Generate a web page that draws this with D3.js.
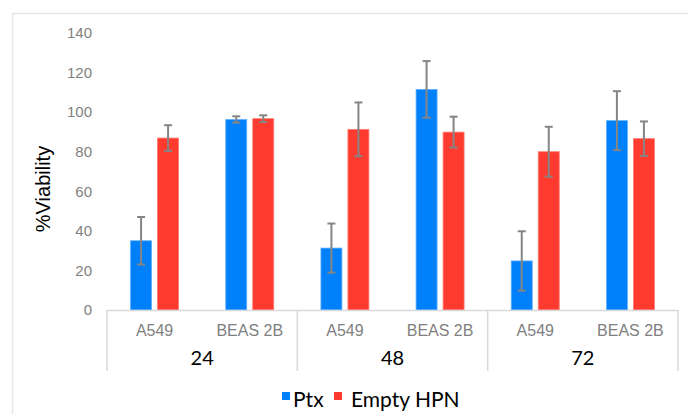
<!DOCTYPE html>
<html>
<head>
<meta charset="utf-8">
<script src="https://cdn.jsdelivr.net/npm/d3@7"></script>
<style>
  body { margin: 0; background: #fff; }
  svg { display: block; }
</style>
</head>
<body>
<div id="content"></div>
<script>
// hours, cell lines, series
var groups = ["24", "48", "72"];
var cells = ["A549", "BEAS 2B"];
var series = ["Ptx", "Empty HPN"];
var yTicks = [0, 20, 40, 60, 80, 100, 120, 140];

// values in order 24/A549, 24/BEAS, 48/A549, 48/BEAS, 72/A549, 72/BEAS
var ptx = [35, 96.3, 31.3, 111.5, 24.8, 95.7];
var ptxErr = [12, 1.6, 12.4, 14.3, 15, 14.9];
var emptyHpn = [86.9, 96.7, 91.3, 89.9, 80, 86.6];
var emptyHpnErr = [6.5, 1.7, 13.6, 7.8, 12.6, 8.7];

var colors = { "Ptx": "#0080fb", "Empty HPN": "#ff3b2f" };
var strokes = { "Ptx": "#5fb0ff", "Empty HPN": "#ff7d73" };

var width = 688, height = 414;

var svg = d3.select("div#content").append("svg")
    .attr("width", width)
    .attr("height", height);

// faint frame
svg.append("path")
    .attr("d", "M12.5," + height + "V13.5H" + width)
    .attr("fill", "none")
    .attr("stroke", "#e6e6e6")
    .attr("stroke-width", 1.5);

var y = d3.scaleLinear().domain([0, 140]).range([310, 33]);

var x0 = d3.scaleBand().domain(groups).range([107, 678]);
var x1 = d3.scaleBand().domain(cells).range([0, x0.bandwidth()]);
var barPair = 48;
var x2 = d3.scaleBand().domain(series)
    .range([(x1.bandwidth() - barPair) / 2, (x1.bandwidth() + barPair) / 2])
    .paddingInner(6 / 27);

var rows = [];
groups.forEach(function(g, gi) {
    cells.forEach(function(c, ci) {
        var i = gi * cells.length + ci;
        rows.push({ group: g, cell: c, key: "Ptx", value: ptx[i], err: ptxErr[i] });
        rows.push({ group: g, cell: c, key: "Empty HPN", value: emptyHpn[i], err: emptyHpnErr[i] });
    });
});

function barX(d) {
    return x0(d.group) + x1(d.cell) + x2(d.key);
}

// y axis labels
svg.append("g")
    .attr("transform", "translate(92,0)")
    .call(d3.axisLeft(y).tickValues(yTicks).tickSize(0).tickPadding(0))
    .call(function(g) { g.select(".domain").remove(); })
    .selectAll("text")
    .attr("fill", "#7f7f7f")
    .style("font-family", "Liberation Sans, Arial, sans-serif")
    .style("font-size", "15px");

svg.append("text")
    .attr("transform", "translate(50,189) rotate(-90)")
    .attr("text-anchor", "middle")
    .style("font-family", "Liberation Sans, Arial, sans-serif")
    .style("font-size", "20px")
    .attr("fill", "#000")
    .text("%Viability");

// bars
svg.selectAll(".bar")
    .data(rows)
    .enter().append("rect")
    .attr("class", "bar")
    .attr("x", barX)
    .attr("width", x2.bandwidth())
    .attr("y", function(d) { return y(d.value); })
    .attr("height", function(d) { return y(0) - y(d.value); })
    .attr("fill", function(d) { return colors[d.key]; })
    .attr("stroke", function(d) { return strokes[d.key]; })
    .attr("stroke-width", 0.8);

// error bars
var eb = svg.selectAll(".err")
    .data(rows)
    .enter().append("g")
    .attr("class", "err")
    .attr("stroke", "#858585")
    .attr("stroke-width", 2)
    .attr("transform", function(d) { return "translate(" + (barX(d) + x2.bandwidth() / 2) + ",0)"; });

eb.append("line")
    .attr("y1", function(d) { return y(d.value + d.err); })
    .attr("y2", function(d) { return y(d.value - d.err); });
eb.append("line")
    .attr("x1", -4).attr("x2", 4)
    .attr("y1", function(d) { return y(d.value + d.err); })
    .attr("y2", function(d) { return y(d.value + d.err); });
eb.append("line")
    .attr("x1", -4).attr("x2", 4)
    .attr("y1", function(d) { return y(d.value - d.err); })
    .attr("y2", function(d) { return y(d.value - d.err); });

// x axis: baseline and group separators
var xr = x0.range();
svg.append("line")
    .attr("x1", xr[0]).attr("x2", xr[1])
    .attr("y1", y(0) + 0.5).attr("y2", y(0) + 0.5)
    .attr("stroke", "#d9d9d9")
    .attr("stroke-width", 1.5);

var seps = groups.map(function(g) { return x0(g); }).concat([xr[1]]);
svg.selectAll(".sep")
    .data(seps)
    .enter().append("line")
    .attr("class", "sep")
    .attr("x1", function(d) { return d; })
    .attr("x2", function(d) { return d; })
    .attr("y1", y(0))
    .attr("y2", 371)
    .attr("stroke", "#d9d9d9")
    .attr("stroke-width", 1.5);

// category labels
groups.forEach(function(g) {
    svg.selectAll(null)
        .data(cells)
        .enter().append("text")
        .attr("x", function(c) { return x0(g) + x1(c) + x1.bandwidth() / 2; })
        .attr("y", 336)
        .attr("text-anchor", "middle")
        .attr("fill", "#7f7f7f")
        .style("font-family", "Liberation Sans, Arial, sans-serif")
        .style("font-size", "16px")
        .text(function(c) { return c; });
});

svg.selectAll(".grp")
    .data(groups)
    .enter().append("text")
    .attr("class", "grp")
    .attr("x", function(g) { return x0(g) + x0.bandwidth() / 2; })
    .attr("y", 365)
    .attr("text-anchor", "middle")
    .attr("fill", "#000")
    .style("font-family", "Lato, Open Sans, sans-serif")
    .style("font-size", "20px")
    .text(function(g) { return g; });

// legend
var legendX = [282, 334];
var lg = svg.selectAll(".legend")
    .data(series)
    .enter().append("g")
    .attr("class", "legend")
    .attr("transform", function(d, i) { return "translate(" + legendX[i] + ",0)"; });

lg.append("rect")
    .attr("y", 392)
    .attr("width", 8)
    .attr("height", 8)
    .attr("fill", function(d) { return colors[d]; });

lg.append("text")
    .attr("x", function(d, i) { return i === 0 ? 11 : 17; })
    .attr("y", 407)
    .attr("fill", "#000")
    .style("font-family", "Lato, Open Sans, sans-serif")
    .style("font-size", "21px")
    .text(function(d) { return d; });
</script>
</body>
</html>
